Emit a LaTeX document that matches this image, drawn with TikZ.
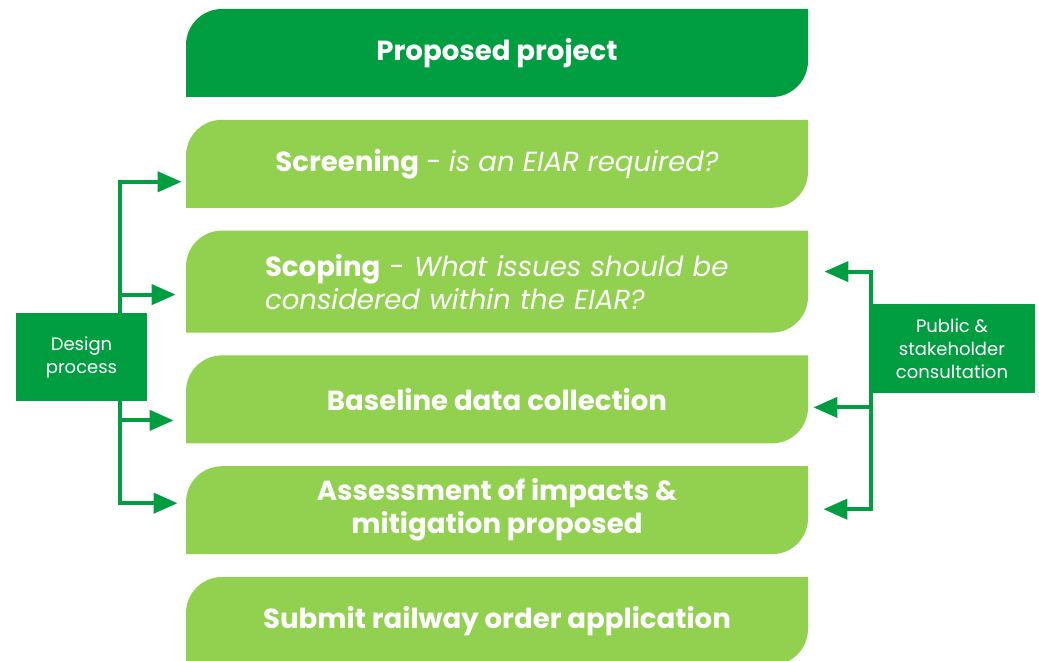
\documentclass[tikz,border=0pt]{standalone}
\usepackage{fontspec}
\setmainfont{Poppins}
\usetikzlibrary{positioning}
\usetikzlibrary{arrows.meta}

\definecolor{eiadark}{RGB}{0,158,64}
\definecolor{eialight}{RGB}{146,208,80}

\tikzset{stage/.style={rectangle, minimum width=311pt, minimum height=44pt,
    inner sep=0pt, text=white, align=center,
    font=\fontsize{13.8}{16.5}\selectfont,
    path picture={\fill[#1] (path picture bounding box.south west)
      -- ([yshift=-18pt]path picture bounding box.north west)
      arc[start angle=180, end angle=90, radius=18pt]
      -- (path picture bounding box.north east)
      -- ([yshift=18pt]path picture bounding box.south east)
      arc[start angle=0, end angle=-90, radius=18pt]
      -- cycle;}},
  stage/.default=eialight}

\begin{document}
\begin{tikzpicture}[x=0.5pt, y=0.5pt, node distance=11pt]

\tikzstyle{side}=[rectangle, fill=eiadark, text=white, inner sep=0pt,
  minimum width=65.5pt, minimum height=44pt, align=center,
  font=\fontsize{9}{11.5}\selectfont]

\tikzstyle{flow}=[draw=eiadark, line width=2pt,
  -{Triangle[length=12pt, width=10pt]}]

\useasboundingbox (0,0) rectangle (1039,660);
\clip (0,0) rectangle (1039,660);

\node[stage=eiadark] (proposed) at (497,607) {\textbf{Proposed project}};
\node[stage, below=of proposed] (screening) {
  \textbf{Screening} - \textit{is an EIAR required?}};
\node[stage, minimum height=51pt, text width=232pt, align=left,
  below=of screening] (scoping) {
  \textbf{Scoping} - \textit{What issues should be}\\
  \textit{considered within the EIAR?}};
\node[stage, below=of scoping] (baseline) {\textbf{Baseline data collection}};
\node[stage, below=of baseline] (assessment) {
  \textbf{Assessment of impacts \&}\\ \textbf{mitigation proposed}};
\node[stage, below=of assessment] (submit) {
  \textbf{Submit railway order application}};

% design side
\node[side] (design) at (81.5,303) {Design\\process};
\coordinate (dspine) at ([xshift=-13.5pt]design.east);
\draw[flow, shorten >=2pt] (design.north -| dspine) |- ([yshift=-9pt]screening.west);
\draw[flow, shorten >=5pt] (design.north -| dspine) |- ([yshift=-6.5pt]scoping.west);
\draw[flow, shorten >=6pt] (design.south -| dspine) |- ([yshift=-10.5pt]baseline.west);
\draw[flow, shorten >=4pt] (design.south -| dspine) |- ([yshift=3.5pt]assessment.west);

% consultation side
\node[side, minimum width=83pt, minimum height=44.5pt] (public) at (952,311.5) {
  Public \&\\ stakeholder\\ consultation};
\coordinate (pspine) at ([xshift=1pt]public.west);
\draw[flow, shorten >=8pt] (public.north -| pspine) |- ([yshift=5pt]scoping.east);
\draw[flow, shorten >=2.5pt] (public.south -| pspine) |- ([yshift=-4pt]baseline.east);
\draw[flow, shorten >=7.5pt] (public.south -| pspine) |- ([yshift=0.5pt]assessment.east);

\end{tikzpicture}
\end{document}
